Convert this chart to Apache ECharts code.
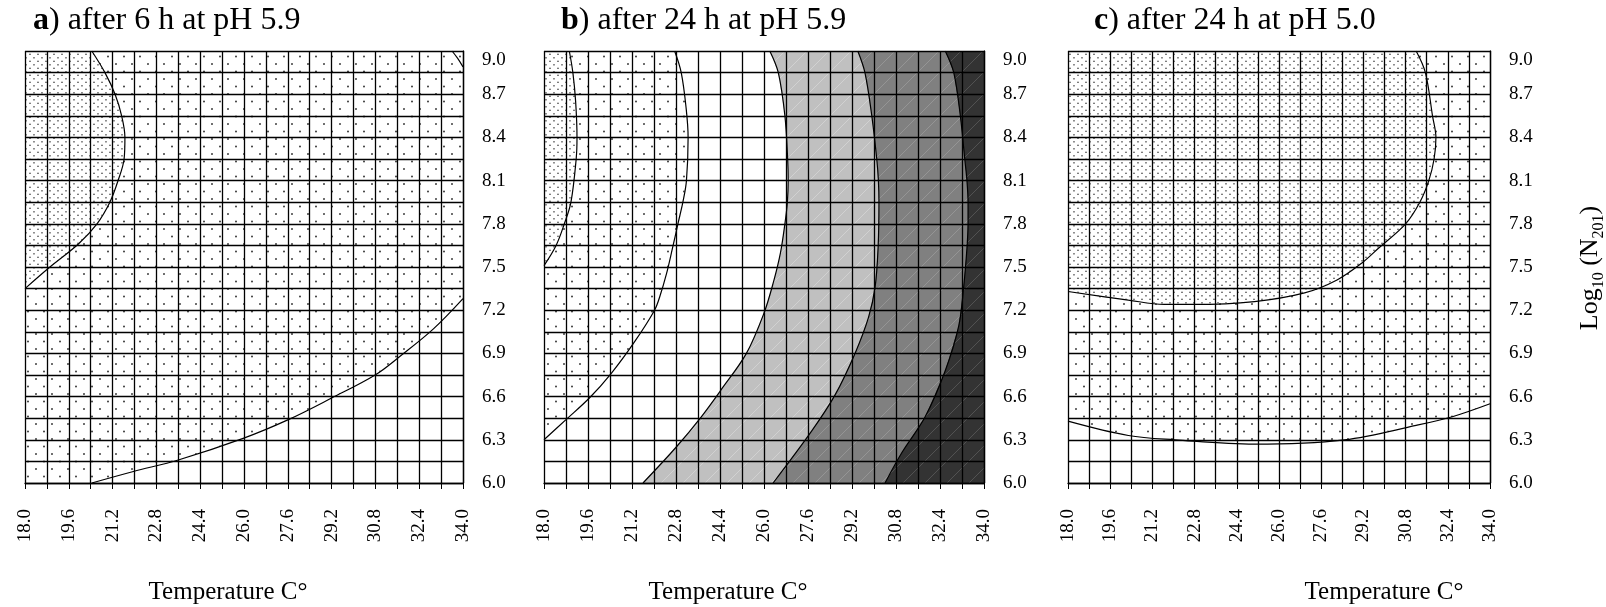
<!DOCTYPE html>
<html>
<head>
<meta charset="utf-8">
<script src="https://cdn.jsdelivr.net/npm/echarts@6/dist/echarts.min.js"></script>
<style>
html, body { margin: 0; padding: 0; background: #fff; }
#chart { width: 1606px; height: 607px; }
</style>
</head>
<body>
<div id="chart"></div>
<script>
// tick labels
var tempLabels = ['18.0', '19.6', '21.2', '22.8', '24.4', '26.0', '27.6', '29.2', '30.8', '32.4', '34.0'];
var logLabels = ['6.0', '6.3', '6.6', '6.9', '7.2', '7.5', '7.8', '8.1', '8.4', '8.7', '9.0'];

// contour lines, points are [temperature, log10 N]
// a) after 6 h at pH 5.9
var aDense = [[20.44, 9.0], [20.92, 8.85], [21.29, 8.7], [21.53, 8.55], [21.65, 8.4], [21.62, 8.25], [21.4, 8.1],
  [21.1, 7.95], [20.63, 7.8], [19.95, 7.66], [18.91, 7.5], [18.0, 7.35]];
var aSparse = [[34.0, 7.28], [32.92, 7.07], [31.7, 6.88], [30.79, 6.75], [29.2, 6.59], [27.62, 6.44],
  [25.97, 6.31], [23.6, 6.16], [21.96, 6.08], [20.44, 6.0]];
var aCorner = [[33.6, 9.0], [33.8, 8.95], [34.0, 8.89]];

// b) after 24 h at pH 5.9
var bDense = [[18.92, 9.0], [19.05, 8.85], [19.15, 8.65], [19.2, 8.4], [19.17, 8.25], [18.98, 7.95], [18.74, 7.8],
  [18.44, 7.65], [18.0, 7.51]];
var bSparse = [[22.75, 9.0], [22.99, 8.85], [23.17, 8.6], [23.24, 8.4], [23.18, 8.1], [23.05, 7.95], [22.87, 7.8],
  [22.66, 7.62], [22.45, 7.45], [22.22, 7.3], [22.02, 7.2], [21.29, 6.98], [20.44, 6.76], [19.65, 6.59],
  [18.8, 6.44], [18.0, 6.3]];
var bLight = [[26.21, 9.0], [26.52, 8.85], [26.76, 8.55], [26.86, 8.25], [26.88, 8.1], [26.85, 7.95], [26.76, 7.8],
  [26.6, 7.6], [26.35, 7.4], [26.0, 7.18], [25.36, 6.9], [24.45, 6.65], [23.72, 6.46], [22.81, 6.25], [21.6, 6.0]];
var bMid = [[29.41, 9.0], [29.67, 8.85], [29.92, 8.55], [30.1, 8.25], [30.16, 8.1], [30.18, 7.95], [30.15, 7.64],
  [30.04, 7.36], [29.8, 7.15], [29.31, 6.9], [28.58, 6.61], [27.73, 6.36], [26.33, 6.0]];
var bDark = [[32.59, 9.0], [32.9, 8.85], [33.14, 8.55], [33.3, 8.25], [33.38, 8.1], [33.42, 7.95], [33.42, 7.8],
  [33.38, 7.63], [33.26, 7.36], [33.08, 7.09], [32.59, 6.78], [31.86, 6.46], [31.01, 6.21], [30.4, 6.0]];

// c) after 24 h at pH 5.0
var cDense = [[31.2, 9.0], [31.55, 8.85], [31.82, 8.55], [31.95, 8.4], [31.88, 8.25], [31.68, 8.1], [31.34, 7.95],
  [30.8, 7.8], [29.77, 7.63], [29.16, 7.53], [28.2, 7.41], [26.97, 7.32], [25.07, 7.26], [22.75, 7.24],
  [21.65, 7.24], [20.29, 7.27], [18.0, 7.33]];
var cSparse = [[18.0, 6.43], [20.29, 6.33], [22.06, 6.3], [25.07, 6.27], [28.48, 6.3], [31.2, 6.4], [32.57, 6.46],
  [34.0, 6.55]];

var T0 = 18, T1 = 34, TSTEP = 0.8;
var N0 = 6, N1 = 9, NSTEP = 0.15;

function dotPattern(w, h, dots, r, col) {
  var c = document.createElement('canvas');
  c.width = w; c.height = h;
  var g = c.getContext('2d');
  g.fillStyle = '#fff';
  g.fillRect(0, 0, w, h);
  g.fillStyle = col;
  dots.forEach(function (d) {
    g.beginPath();
    g.arc(d[0], d[1], r, 0, Math.PI * 2);
    g.fill();
  });
  return { image: c, repeat: 'repeat' };
}
function greyPattern(base, line) {
  var c = document.createElement('canvas');
  c.width = 22; c.height = 22;
  var g = c.getContext('2d');
  g.fillStyle = base;
  g.fillRect(0, 0, 22, 22);
  g.strokeStyle = line;
  g.lineWidth = 0.8;
  g.beginPath();
  g.moveTo(0, 22); g.lineTo(22, 0);
  g.stroke();
  return { image: c, repeat: 'repeat' };
}

var denseFill = dotPattern(8, 7, [[2, 1.75], [6, 5.25]], 0.85, '#555');
var sparseFill = dotPattern(16, 15, [[4, 4], [12, 11.5]], 0.95, '#333');
var lightFill = greyPattern('#c0c0c0', '#d6d6d6');
var midFill = greyPattern('#808080', '#9a9a9a');
var darkFill = greyPattern('#333333', '#5a5a5a');

var serif = 'Liberation Serif';

var grids = [
  { left: 25, top: 51, width: 438, height: 432 },
  { left: 544, top: 51, width: 440, height: 432 },
  { left: 1068, top: 51, width: 422, height: 432 }
];

var xAxes = [], yAxes = [];
grids.forEach(function (g, i) {
  xAxes.push({
    gridIndex: i, type: 'value', min: T0, max: T1, interval: TSTEP,
    axisLine: { show: true, onZero: false, lineStyle: { color: '#000', width: 1.3 } },
    axisTick: { show: true, length: 6, lineStyle: { color: '#000', width: 1 } },
    splitLine: { show: true, lineStyle: { color: '#000', width: 1.3 } },
    axisLabel: {
      rotate: 90, margin: 26, color: '#000', fontFamily: serif, fontSize: 19,
      formatter: function (v) {
        var k = Math.round((v - T0) / TSTEP);
        return k % 2 === 0 ? tempLabels[k / 2] : '';
      }
    }
  });
  yAxes.push({
    gridIndex: i, type: 'value', position: 'right', min: N0, max: N1, interval: NSTEP,
    axisLine: { show: true, lineStyle: { color: '#000', width: 1.3 } },
    axisTick: { show: false },
    splitLine: { show: true, lineStyle: { color: '#000', width: 1.3 } },
    axisLabel: {
      margin: 19, color: '#000', fontFamily: serif, fontSize: 19,
      verticalAlignMaxLabel: 'top',
      formatter: function (v) {
        var k = Math.round((v - N0) / NSTEP);
        return k % 2 === 0 ? logLabels[k / 2] : '';
      }
    }
  });
});

function fillSeries(panel, poly, fill) {
  return {
    type: 'custom', xAxisIndex: panel, yAxisIndex: panel, z: -1, silent: true,
    data: poly,
    renderItem: function (params, api) {
      if (params.dataIndex !== 0) return;
      return {
        type: 'polygon',
        shape: { points: poly.map(function (p) { return api.coord(p); }) },
        style: { fill: fill, stroke: null }
      };
    }
  };
}
function lineSeries(panel, pts) {
  return {
    type: 'line', xAxisIndex: panel, yAxisIndex: panel, z: 5, silent: true,
    data: pts, smooth: 0.35, symbol: 'none',
    lineStyle: { color: '#000', width: 1.2 }
  };
}

var series = [
  fillSeries(0, aSparse.concat([[T0, N0], [T0, N1], [T1, N1]]), sparseFill),
  fillSeries(0, aDense.concat([[T0, N1]]), denseFill),
  lineSeries(0, aDense), lineSeries(0, aSparse), lineSeries(0, aCorner),

  fillSeries(1, bSparse.concat([[T0, N1]]), sparseFill),
  fillSeries(1, bDense.concat([[T0, N1]]), denseFill),
  fillSeries(1, bLight.concat([[T1, N0], [T1, N1]]), lightFill),
  fillSeries(1, bMid.concat([[T1, N0], [T1, N1]]), midFill),
  fillSeries(1, bDark.concat([[T1, N0], [T1, N1]]), darkFill),
  lineSeries(1, bDense), lineSeries(1, bSparse), lineSeries(1, bLight),
  lineSeries(1, bMid), lineSeries(1, bDark),

  fillSeries(2, cSparse.concat([[T1, N1], [T0, N1]]), sparseFill),
  fillSeries(2, cDense.concat([[T0, N1]]), denseFill),
  lineSeries(2, cDense), lineSeries(2, cSparse)
];

function titleText(x, letter, rest) {
  return {
    type: 'text', left: x, top: 5, silent: true,
    style: {
      text: '{b|' + letter + '}' + rest,
      font: '32px "Liberation Serif"', fill: '#000',
      rich: { b: { fontFamily: serif, fontSize: 32, fontWeight: 'bold' } }
    }
  };
}
function xName(cx) {
  return {
    type: 'text', x: cx, y: 592, silent: true,
    style: { text: 'Temperature C°', font: '25px "Liberation Serif"', fill: '#000', align: 'center', verticalAlign: 'middle' }
  };
}

var chart = echarts.init(document.getElementById('chart'));
chart.setOption({
  animation: false,
  backgroundColor: '#fff',
  grid: grids,
  xAxis: xAxes,
  yAxis: yAxes,
  series: series,
  graphic: [
    titleText(33, 'a', ') after 6 h at pH 5.9'),
    titleText(561, 'b', ') after 24 h at pH 5.9'),
    titleText(1094, 'c', ') after 24 h at pH 5.0'),
    xName(228), xName(728), xName(1384),
    {
      type: 'text', x: 1592, y: 268, rotation: Math.PI / 2, silent: true,
      style: {
        text: '{n|Log}{s|10}{n| (N}{s|201}{n|)}',
        align: 'center', verticalAlign: 'middle', fill: '#000',
        rich: {
          n: { fontFamily: serif, fontSize: 26, lineHeight: 29, verticalAlign: 'top' },
          s: { fontFamily: serif, fontSize: 16, lineHeight: 29, verticalAlign: 'bottom' }
        }
      }
    }
  ]
});
</script>
</body>
</html>
